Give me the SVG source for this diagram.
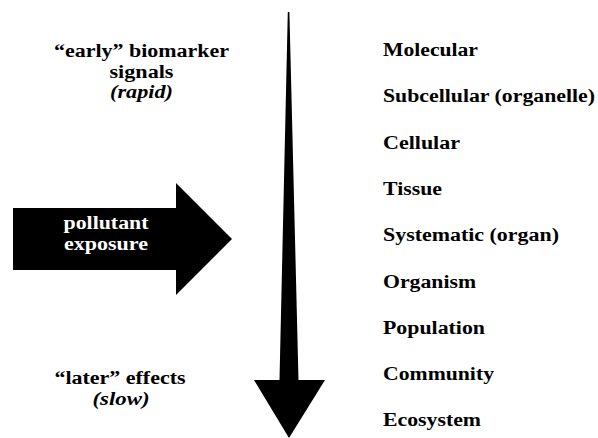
<svg xmlns="http://www.w3.org/2000/svg" width="598" height="438" viewBox="0 0 598 438">
<style>
text{font-family:"Liberation Serif","Times New Roman","DejaVu Serif",serif;font-weight:bold;font-size:18px;fill:#000}
.c{text-anchor:middle}
.i{font-style:italic}
.w{fill:#fff}
.arrow{fill:#000;stroke:none}
</style>
<rect width="598" height="438" fill="#fff"/>
<g id="connectors">
<polygon id="time-arrow" class="arrow" points="287.8,12 289.4,12 298.5,380 325,380 289,438 254,380 279.5,380"/>
</g>
<g id="pollutant-exposure">
<polygon class="arrow" points="13,208 176,208 176,183 232,239 176,295 176,270 13,270"/>
<text class="c w" x="106" y="229" textLength="85" lengthAdjust="spacingAndGlyphs">pollutant</text>
<text class="c w" x="106" y="250" textLength="84" lengthAdjust="spacingAndGlyphs">exposure</text>
</g>
<g id="early">
<text class="c" x="141.5" y="57" textLength="175" lengthAdjust="spacingAndGlyphs">“early” biomarker</text>
<text class="c" x="141.5" y="77.5" textLength="64" lengthAdjust="spacingAndGlyphs">signals</text>
<text class="c i" x="141.5" y="98" textLength="63" lengthAdjust="spacingAndGlyphs">(rapid)</text>
</g>
<g id="later">
<text class="c" x="120" y="383.5" textLength="131" lengthAdjust="spacingAndGlyphs">“later” effects</text>
<text class="c i" x="121" y="405" textLength="57" lengthAdjust="spacingAndGlyphs">(slow)</text>
</g>
<g id="levels">
<text x="383" y="56" textLength="95" lengthAdjust="spacingAndGlyphs">Molecular</text>
<text x="383" y="102.3" textLength="212" lengthAdjust="spacingAndGlyphs">Subcellular (organelle)</text>
<text x="383" y="148.6" textLength="77" lengthAdjust="spacingAndGlyphs">Cellular</text>
<text x="383" y="194.9" textLength="59" lengthAdjust="spacingAndGlyphs">Tissue</text>
<text x="383" y="241.2" textLength="176" lengthAdjust="spacingAndGlyphs">Systematic (organ)</text>
<text x="383" y="287.5" textLength="93" lengthAdjust="spacingAndGlyphs">Organism</text>
<text x="383" y="333.8" textLength="102" lengthAdjust="spacingAndGlyphs">Population</text>
<text x="383" y="380.1" textLength="111" lengthAdjust="spacingAndGlyphs">Community</text>
<text x="383" y="426.4" textLength="98" lengthAdjust="spacingAndGlyphs">Ecosystem</text>
</g>
</svg>
